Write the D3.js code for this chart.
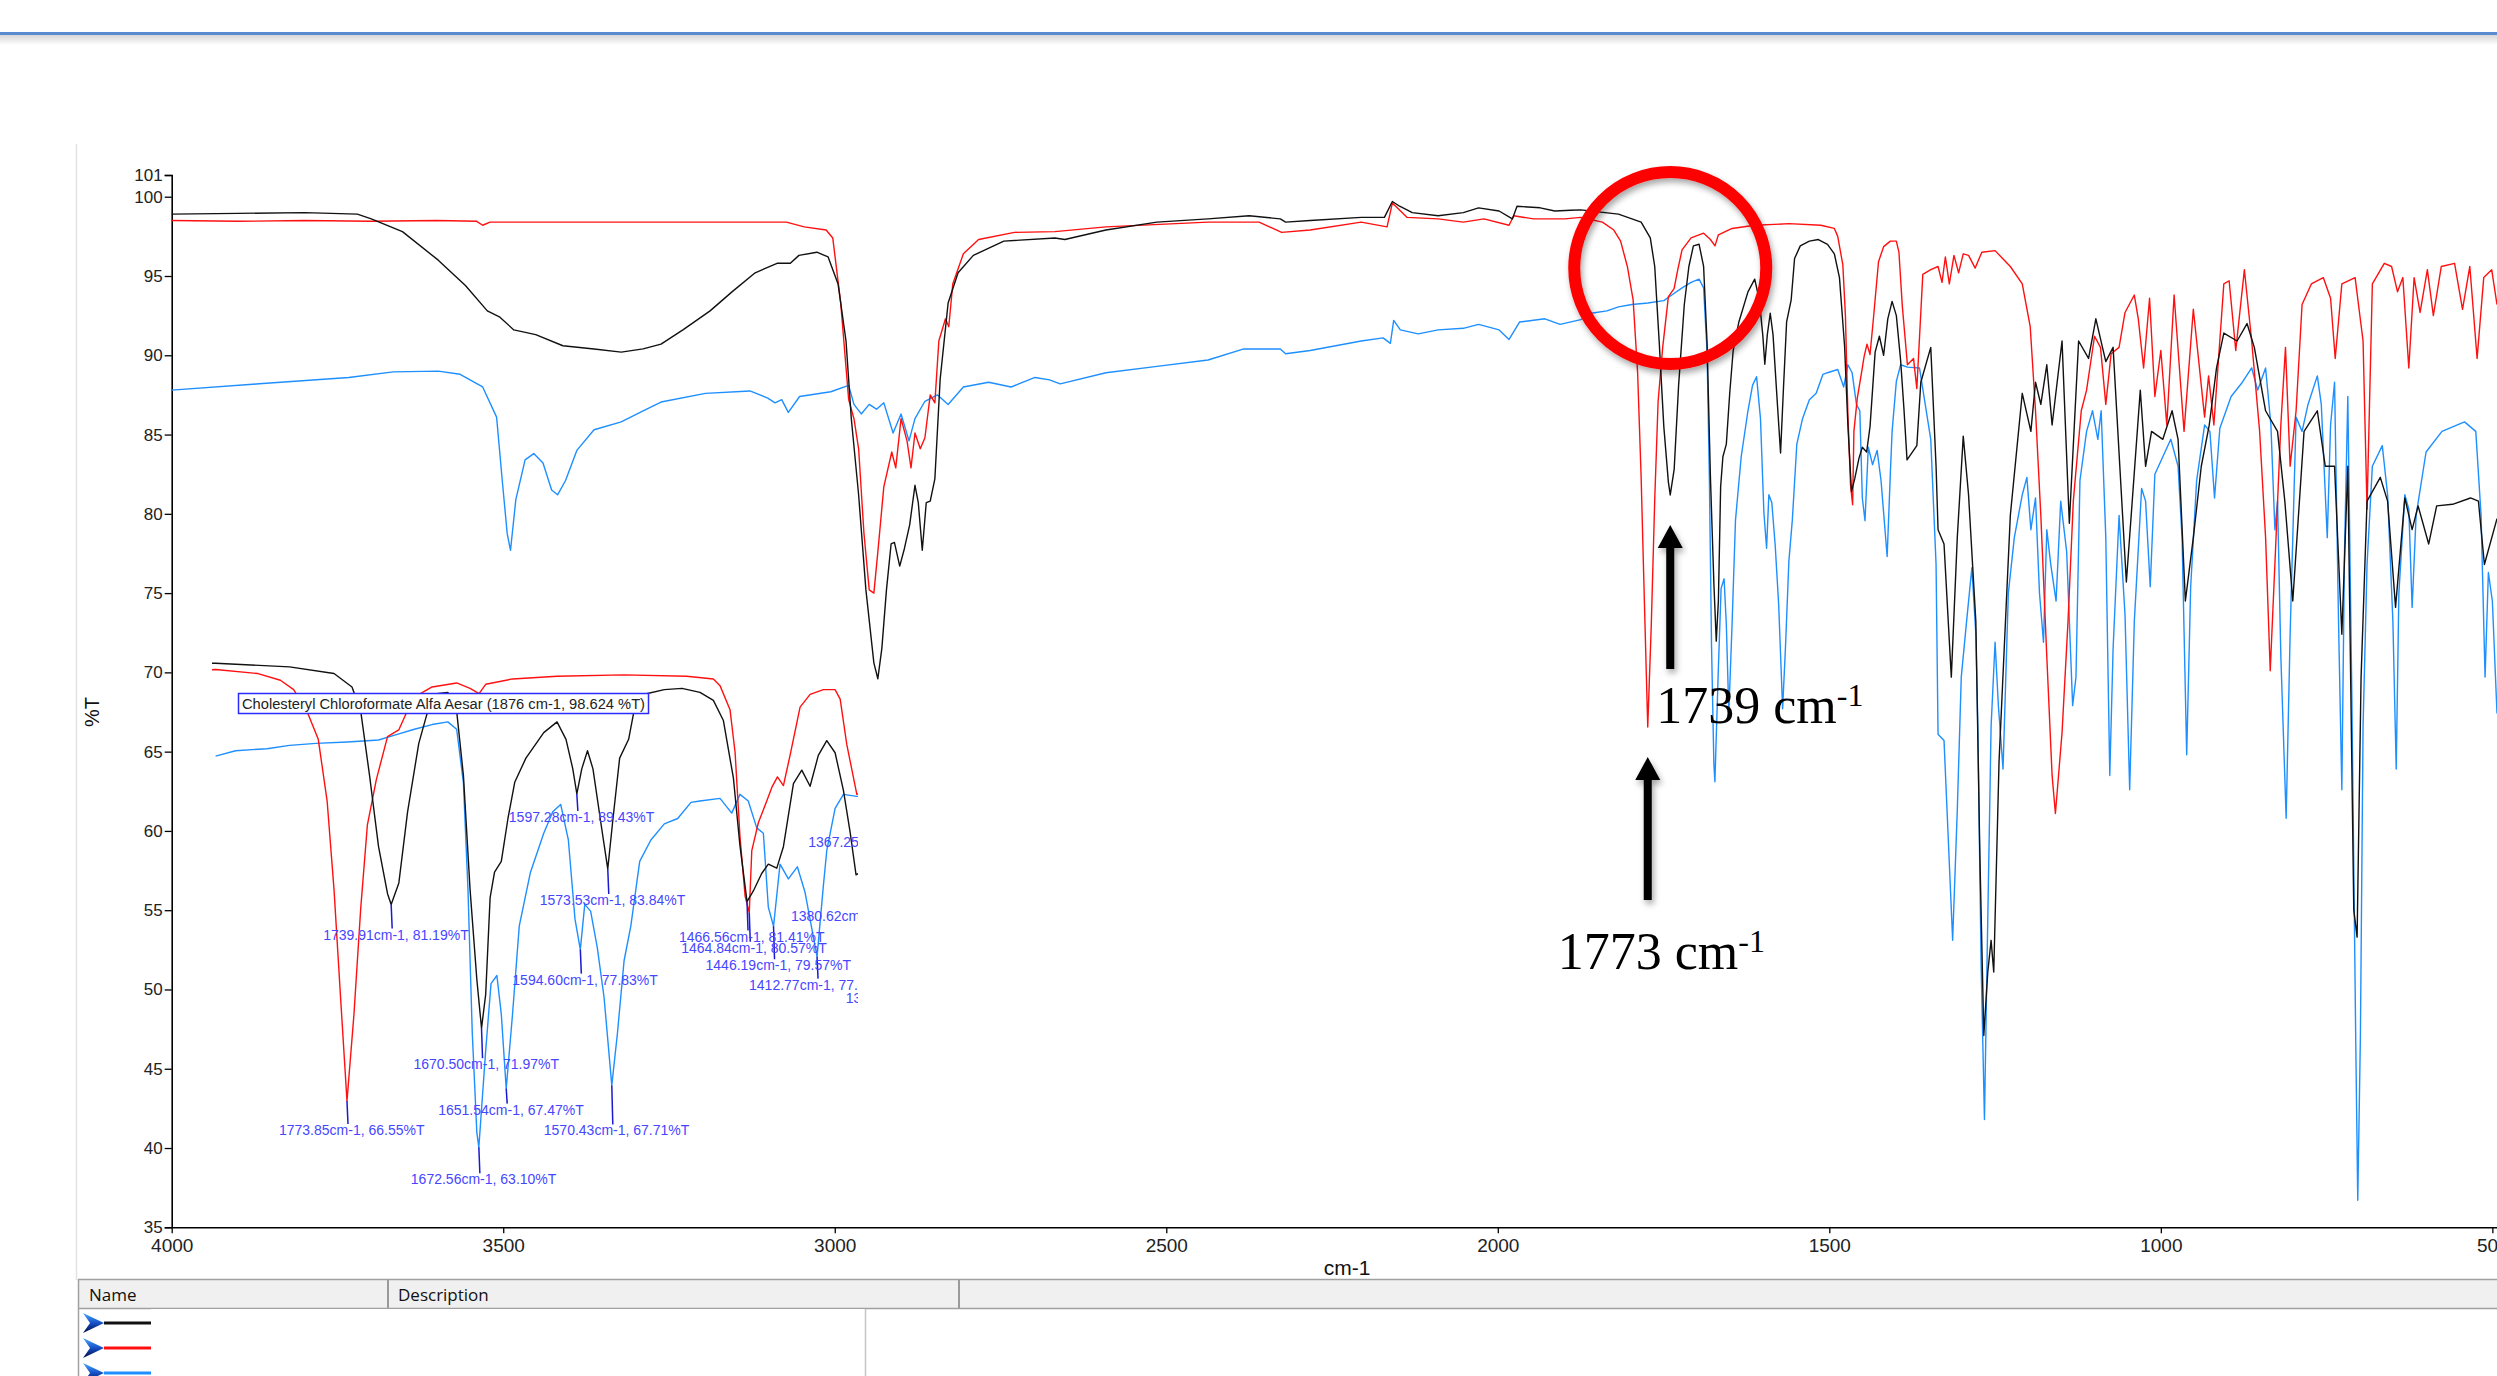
<!DOCTYPE html>
<html>
<head>
<meta charset="utf-8">
<script src="https://cdn.jsdelivr.net/npm/d3@7"></script>
<style>
  html, body { margin: 0; padding: 0; background: #fff; overflow: hidden; }
  svg { display: block; font-family: "Liberation Sans", Arial, sans-serif; }
</style>
</head>
<body>
<svg id="chart"></svg>
<script>
// ---- data: [wavenumber cm-1, %T] ----
const blackTrace = [
  [4000, 98.9], [3900, 98.95], [3800, 99.0], [3720, 98.9], [3699, 98.6], [3652, 97.8], [3598, 96.0],
  [3557, 94.4], [3524, 92.8], [3505, 92.4], [3484, 91.6], [3451, 91.3], [3410, 90.6], [3363, 90.4],
  [3322, 90.2], [3289, 90.4], [3262, 90.7], [3229, 91.6], [3188, 92.8], [3155, 94.0], [3120, 95.2],
  [3087, 95.8], [3067, 95.8], [3054, 96.3], [3027, 96.5], [3010, 96.2], [2995, 94.5], [2983, 90.9],
  [2975, 86.0], [2964, 81.2], [2953, 75.2], [2941, 70.6], [2935, 69.6], [2929, 71.5], [2922, 75.2],
  [2915, 78.1], [2910, 78.2], [2902, 76.7], [2895, 77.8], [2887, 79.3], [2879, 81.8], [2874, 80.7],
  [2868, 77.7], [2862, 80.7], [2856, 80.8], [2849, 82.2], [2841, 88.5], [2829, 93.3], [2814, 95.2],
  [2791, 96.3], [2745, 97.2], [2668, 97.4], [2653, 97.3], [2591, 97.9], [2514, 98.4], [2437, 98.6],
  [2375, 98.8], [2328, 98.6], [2320, 98.4], [2283, 98.5], [2206, 98.7], [2171, 98.7], [2159, 99.7],
  [2148, 99.4], [2129, 99.0], [2090, 98.8], [2052, 99.0], [2029, 99.3], [1998, 99.1], [1978, 98.6],
  [1971, 99.4], [1936, 99.3], [1914, 99.1], [1890, 99.15], [1874.8, 99.17], [1818, 98.9], [1783.8, 98.4],
  [1770, 97.4], [1763.3, 95.6], [1756.5, 90.8], [1749.6, 85.5], [1742.7, 82.0], [1739.91, 81.19],
  [1734, 82.8], [1727.3, 88.1], [1718.7, 93.2], [1711.8, 95.6], [1705, 96.9], [1696.4, 97.0],
  [1689.6, 95.6], [1684.4, 90.8], [1679.3, 82.3], [1674.1, 75.6], [1670.5, 71.97], [1667.3, 74.5],
  [1663.9, 81.7], [1660.5, 83.6], [1655.3, 84.4], [1650.2, 87.6], [1645, 90.3], [1636.4, 92.1],
  [1622.7, 94.0], [1612.5, 94.8], [1605.6, 93.5], [1600.4, 91.3], [1597.28, 89.43], [1593.5, 91.3],
  [1589.1, 92.65], [1584.9, 91.3], [1578.1, 86.8], [1573.53, 83.84], [1569.5, 87.6], [1564.4, 92.1],
  [1557.5, 93.5], [1552.4, 96.1], [1543.8, 96.9], [1530.1, 97.2], [1516.5, 97.3], [1502.7, 97.0],
  [1492.4, 96.4], [1484.7, 94.9], [1477, 90.6], [1472, 85.6], [1466.56, 81.41], [1461.7, 82.2],
  [1455.3, 83.5], [1450.2, 84.2], [1443.7, 83.9], [1438.6, 85.5], [1430.9, 90.2], [1424.5, 91.2],
  [1418.1, 90.0], [1411.8, 92.3], [1405.3, 93.4], [1398.9, 92.5], [1392.5, 89.7], [1387.4, 86.6],
  [1382.8, 83.4], [1368, 84.3], [1362, 88.3], [1347, 90.5], [1339, 83.0], [1336, 79.0], [1327, 78.1],
  [1316, 69.7], [1307, 78.5], [1298, 84.9], [1290, 81.2], [1279, 73.2], [1273, 58.6], [1267, 47.1],
  [1261, 51.1], [1256, 53.1], [1252, 51.1], [1244, 64.4], [1227, 79.9], [1209, 87.6], [1196, 85.2],
  [1189, 88.3], [1181, 86.9], [1172, 89.4], [1164, 85.6], [1149, 90.9], [1138, 79.4], [1124, 90.9],
  [1109, 89.8], [1098, 92.3], [1083, 89.6], [1072, 90.5], [1052, 75.7], [1031, 87.8], [1023, 83.0],
  [1014, 85.2], [997, 84.7], [983, 86.5], [974, 84.7], [963, 74.5], [951, 78.5], [939, 83.0],
  [927, 85.6], [916, 89.2], [905, 91.4], [885, 90.9], [870, 92.0], [859, 90.5], [842, 86.5],
  [824, 85.2], [813, 80.8], [801, 74.5], [784, 85.2], [764, 86.5], [752, 83.0], [738, 83.0],
  [727, 72.4], [718, 83.0], [709, 55.0], [704, 53.3], [698, 69.7], [689, 80.8], [669, 82.3],
  [658, 80.8], [646, 74.1], [632, 81.0], [621, 79.0], [612, 80.5], [596, 78.1], [584, 80.5],
  [560, 80.6], [533, 81.0], [521, 80.8], [512, 76.8], [493, 79.7]
];

const redTrace = [
  [4000, 98.5], [3900, 98.45], [3800, 98.5], [3700, 98.45], [3600, 98.5], [3540, 98.45], [3531, 98.2],
  [3520, 98.4], [3400, 98.4], [3200, 98.4], [3073, 98.4], [3046, 98.1], [3013, 97.9], [3003, 97.4],
  [2991, 93.3], [2979, 87.2], [2971, 86.0], [2964, 84.1], [2956, 78.8], [2948, 75.2], [2941, 75.0],
  [2935, 77.6], [2926, 81.7], [2914, 83.9], [2908, 82.9], [2900, 86.0], [2891, 84.6], [2885, 82.9],
  [2879, 85.1], [2871, 84.1], [2864, 84.8], [2856, 87.5], [2849, 87.0], [2843, 90.9], [2833, 92.3],
  [2828, 91.8], [2822, 94.5], [2806, 96.4], [2783, 97.3], [2729, 97.75], [2668, 97.8], [2591, 98.1],
  [2437, 98.4], [2360, 98.4], [2326, 97.75], [2283, 97.9], [2206, 98.4], [2167, 98.1], [2159, 99.6],
  [2137, 98.7], [2090, 98.6], [2052, 98.4], [2021, 98.6], [1983, 98.2], [1976, 98.8], [1946, 98.6],
  [1899, 98.6], [1874.8, 98.7], [1842.2, 98.4], [1825, 97.9], [1814.8, 97.2], [1804.6, 95.6],
  [1795.9, 93.5], [1789.1, 88.9], [1783.8, 82.3], [1778.8, 74.3], [1773.85, 66.55], [1768.5, 73.0],
  [1763.3, 80.9], [1758.2, 87.1], [1751.3, 90.5], [1742.7, 93.7], [1734.1, 94.2], [1729, 95.3],
  [1722.1, 96.65], [1708.5, 97.4], [1689.6, 97.7], [1679.3, 97.3], [1672.4, 96.9], [1667.3, 97.6],
  [1646.7, 98.0], [1612.5, 98.2], [1561, 98.3], [1512.9, 98.2], [1492.4, 98.0], [1487.3, 97.5],
  [1479.6, 95.7], [1475.7, 92.5], [1472, 86.3], [1468, 81.8], [1464.84, 80.57], [1462.9, 85.2],
  [1457.8, 87.3], [1451.4, 88.9], [1447.6, 89.9], [1443.2, 90.7], [1438.6, 90.05], [1433.5, 92.3],
  [1425.8, 95.9], [1418.1, 96.85], [1407.9, 97.2], [1398.9, 97.2], [1395, 96.5], [1389.9, 93.1],
  [1382.2, 89.4], [1373, 89.8], [1368, 87.9], [1359, 95.1], [1347, 95.4], [1336, 95.6], [1330, 94.6],
  [1325, 96.2], [1319, 94.5], [1312, 96.3], [1305, 95.2], [1298, 96.4], [1290, 96.3], [1280, 95.5],
  [1270, 96.5], [1250, 96.6], [1227, 95.6], [1209, 94.5], [1197, 91.8], [1189, 86.5], [1181, 79.9],
  [1172, 71.0], [1164, 63.5], [1159, 61.1], [1149, 66.2], [1140, 73.2], [1132, 80.8], [1120, 86.5],
  [1112, 87.8], [1100, 91.2], [1091, 90.5], [1083, 86.9], [1075, 90.1], [1063, 90.5], [1054, 92.7],
  [1040, 93.8], [1034, 92.3], [1026, 89.2], [1017, 93.6], [1009, 87.4], [1000, 90.3], [991, 85.6],
  [980, 93.8], [965, 85.2], [951, 92.9], [934, 86.1], [928, 88.7], [920, 85.6], [905, 94.5],
  [897, 94.7], [887, 90.3], [874, 95.4], [863, 90.9], [851, 85.2], [842, 78.5], [835, 70.1],
  [828, 76.8], [819, 85.6], [812, 90.5], [805, 83.0], [796, 86.5], [787, 93.2], [773, 94.5],
  [755, 94.9], [744, 93.6], [737, 89.8], [727, 94.5], [707, 94.9], [695, 90.9], [689, 80.3],
  [681, 94.5], [663, 95.8], [652, 95.6], [643, 94.0], [635, 94.9], [626, 89.2], [618, 94.9],
  [609, 92.7], [598, 95.4], [589, 92.5], [577, 95.6], [557, 95.8], [545, 92.9], [534, 95.6],
  [523, 89.8], [513, 94.9], [501, 95.4], [493, 93.2]
];

const blueTrace = [
  [4000, 87.8], [3868, 88.2], [3733, 88.6], [3666, 88.95], [3598, 89.0], [3565, 88.8], [3531, 88.0],
  [3510, 86.1], [3501, 81.9], [3494, 78.75], [3489, 77.7], [3481, 80.9], [3467, 83.4], [3454, 83.8],
  [3440, 83.2], [3427, 81.5], [3418, 81.2], [3406, 82.1], [3389, 84.0], [3363, 85.3], [3322, 85.8],
  [3289, 86.5], [3262, 87.05], [3195, 87.6], [3128, 87.75], [3101, 87.3], [3090, 87.0], [3080, 87.2],
  [3070, 86.4], [3053, 87.4], [3006, 87.7], [2979, 88.1], [2971, 86.9], [2960, 86.3], [2948, 86.9],
  [2937, 86.6], [2926, 87.0], [2912, 85.1], [2900, 86.3], [2888, 84.6], [2879, 86.0], [2864, 87.1],
  [2845, 87.5], [2829, 86.9], [2806, 88.0], [2768, 88.3], [2734, 88.0], [2698, 88.6], [2676, 88.45],
  [2660, 88.2], [2591, 88.9], [2514, 89.3], [2437, 89.7], [2383, 90.4], [2328, 90.4], [2320, 90.1],
  [2283, 90.3], [2206, 90.9], [2173, 91.1], [2162, 90.75], [2157, 92.2], [2147, 91.6], [2120, 91.35],
  [2090, 91.6], [2052, 91.7], [2029, 91.95], [1998, 91.6], [1983, 91.0], [1967, 92.1], [1929, 92.3],
  [1906, 91.95], [1874.8, 92.25], [1859.4, 92.65], [1835.3, 92.8], [1818, 93.05], [1797.7, 93.2],
  [1773.6, 93.3], [1749.6, 93.45], [1735.9, 93.85], [1722.1, 94.25], [1708.5, 94.6], [1696.4, 94.8],
  [1689.6, 94.25], [1684.4, 90.25], [1680.9, 82.3], [1677.6, 71.6], [1674.1, 64.2], [1672.56, 63.1],
  [1667.3, 70.3], [1663.2, 75.3], [1658.7, 75.9], [1655.3, 73.0], [1651.54, 67.47], [1646.7, 73.0],
  [1641.5, 79.6], [1632.9, 83.6], [1622.7, 86.5], [1615.8, 88.1], [1609.7, 88.65], [1603.8, 86.0],
  [1598.7, 80.1], [1594.6, 77.83], [1591.2, 81.2], [1586.7, 80.7], [1581.6, 78.0], [1576.4, 74.3],
  [1570.43, 67.71], [1566.1, 71.6], [1561, 77.0], [1555.8, 79.6], [1549, 84.4], [1540.4, 86.0],
  [1530.1, 87.2], [1519.8, 87.6], [1509.6, 88.8], [1502.7, 88.9], [1487.3, 89.1], [1478.3, 88.0],
  [1472, 89.4], [1465.6, 88.9], [1459.1, 86.9], [1454, 86.5], [1450.2, 81.0], [1446.19, 79.57],
  [1441.2, 84.2], [1434.8, 83.1], [1427.9, 84.0], [1422, 82.1], [1412.77, 77.31], [1407.9, 82.6],
  [1405.3, 85.2], [1398.9, 88.35], [1392.5, 89.4], [1382.2, 89.25], [1364, 89.2], [1347, 84.7],
  [1339, 76.8], [1336, 66.1], [1327, 65.7], [1321, 59.9], [1314, 53.1], [1307, 61.3], [1301, 69.7],
  [1293, 73.2], [1285, 76.6], [1279, 72.4], [1276, 66.6], [1271, 51.5], [1266, 41.8], [1262, 52.0],
  [1256, 66.6], [1250, 71.9], [1245, 67.9], [1238, 63.9], [1230, 75.0], [1221, 78.5], [1209, 81.2],
  [1202, 82.3], [1196, 79.0], [1189, 81.0], [1183, 75.0], [1177, 71.9], [1172, 79.0], [1166, 76.8],
  [1158, 74.5], [1151, 80.8], [1142, 77.6], [1133, 67.9], [1128, 69.7], [1122, 82.1], [1112, 85.2],
  [1103, 86.5], [1095, 84.7], [1090, 86.5], [1083, 78.5], [1077, 63.5], [1072, 71.5], [1063, 79.9],
  [1054, 73.6], [1047, 62.6], [1040, 73.2], [1029, 81.6], [1023, 80.8], [1016, 75.4], [1009, 82.5],
  [997, 83.6], [985, 84.7], [974, 83.0], [968, 78.5], [961, 64.8], [955, 75.4], [946, 82.1],
  [934, 85.6], [926, 85.2], [919, 81.0], [911, 85.4], [894, 87.4], [877, 88.3], [863, 89.2],
  [854, 87.8], [842, 89.2], [834, 85.6], [828, 79.0], [824, 80.8], [819, 71.0], [811, 60.8],
  [805, 72.4], [796, 86.1], [787, 85.2], [778, 86.9], [764, 88.7], [758, 86.9], [749, 78.5],
  [744, 85.6], [738, 88.3], [732, 73.2], [727, 62.6], [723, 77.6], [718, 87.4], [712, 68.8],
  [706, 46.6], [703, 36.7], [699, 47.1], [695, 66.6], [689, 76.8], [681, 83.0], [666, 84.3],
  [658, 81.2], [650, 73.2], [645, 63.9], [641, 75.0], [632, 81.2], [626, 80.3], [621, 74.1],
  [615, 79.9], [600, 83.9], [576, 85.2], [542, 85.8], [525, 85.2], [517, 79.9], [511, 69.7],
  [506, 76.3], [500, 74.5], [493, 67.4]
];

// peak picks shown in the zoomed inset
const peakWavenumbers = [1773.85, 1739.91, 1672.56, 1670.50, 1651.54, 1597.28, 1594.60, 1573.53,
  1570.43, 1466.56, 1464.84, 1446.19, 1412.77, 1380.62, 1367.25, 1338.49];
const peakValues = [66.55, 81.19, 63.10, 71.97, 67.47, 89.43, 77.83, 83.84,
  67.71, 81.41, 80.57, 79.57, 77.31, 83.25, 88.62, 76.90];

const yTicks = [35, 40, 45, 50, 55, 60, 65, 70, 75, 80, 85, 90, 95, 100, 101.37];
const xTicks = [4000, 3500, 3000, 2500, 2000, 1500, 1000, 500];

const tooltipText = "Cholesteryl Chloroformate Alfa Aesar (1876 cm-1, 98.624 %T)";
const callouts = [1739.91, 1773.85];   // C=O bands marked with arrows
const calloutValues = [81.19, 66.55];

// ---- page ----
const W = 2497, H = 1376;
const svg = d3.select("#chart").attr("width", W).attr("height", H);
const defs = svg.append("defs");

const shadow = defs.append("filter").attr("id", "shadow")
  .attr("x", "-20%").attr("y", "-20%").attr("width", "140%").attr("height", "140%");
shadow.append("feDropShadow").attr("dx", 2).attr("dy", 4).attr("stdDeviation", 3)
  .attr("flood-color", "#000").attr("flood-opacity", 0.35);

const topShade = defs.append("linearGradient").attr("id", "topShade")
  .attr("x1", 0).attr("y1", 0).attr("x2", 0).attr("y2", 1);
topShade.append("stop").attr("offset", 0).attr("stop-color", "#d6d6d6");
topShade.append("stop").attr("offset", 1).attr("stop-color", "#ffffff");

const chev = defs.append("linearGradient").attr("id", "chev")
  .attr("x1", 0).attr("y1", 0).attr("x2", 0).attr("y2", 1);
chev.append("stop").attr("offset", 0).attr("stop-color", "#49a8ff");
chev.append("stop").attr("offset", 0.5).attr("stop-color", "#1550c8");
chev.append("stop").attr("offset", 1).attr("stop-color", "#000a40");

// window chrome: blue rule across the top and the panel edge
svg.append("rect").attr("x", 0).attr("y", 32).attr("width", W).attr("height", 3).attr("fill", "#5a8bd0");
svg.append("rect").attr("x", 0).attr("y", 35).attr("width", W).attr("height", 10).attr("fill", "url(#topShade)");
svg.append("line").attr("x1", 76.5).attr("x2", 76.5).attr("y1", 144).attr("y2", 1280)
  .attr("stroke", "#e2e2e2").attr("stroke-width", 1.5);

// Create scales for the main plot
const x = d3.scaleLinear().domain([4000, 493]).range([171.7, 2497]);
const y = d3.scaleLinear().domain([35, 101.37]).range([1227.3, 175]);

// Create Y axis
const yAxis = svg.append("g")
  .attr("transform", `translate(${x(4000)},0)`)
  .call(d3.axisLeft(y).tickValues(yTicks).tickSize(7).tickPadding(2).tickFormat(d3.format(".0f")));
yAxis.selectAll("text").attr("font-size", 17).attr("fill", "#222");

// Create X axis
const xAxis = svg.append("g")
  .attr("transform", `translate(0,${y(35)})`)
  .call(d3.axisBottom(x).tickValues(xTicks).tickSize(6).tickSizeOuter(0).tickPadding(5).tickFormat(d3.format("d")));
xAxis.selectAll("text").attr("font-size", 19).attr("fill", "#222");

[yAxis, xAxis].forEach(a => {
  a.attr("font-family", "'Liberation Sans', Arial, sans-serif");
  a.select(".domain").attr("stroke", "#000").attr("stroke-width", 1.6);
  a.selectAll(".tick line").attr("stroke", "#000").attr("stroke-width", 1.3);
});

svg.append("text").attr("x", 1347).attr("y", 1275).attr("text-anchor", "middle")
  .attr("font-size", 21).attr("fill", "#111").text("cm-1");
svg.append("text").attr("transform", "translate(99,712) rotate(-90)").attr("text-anchor", "middle")
  .attr("font-size", 20).attr("fill", "#111").text("%T");

// Spectra
const series = [
  { data: blueTrace, color: "#1e8fff" },
  { data: redTrace, color: "#ff1010" },
  { data: blackTrace, color: "#111111" }
];
const line = d3.line().x(d => x(d[0])).y(d => y(d[1]));
svg.append("g").selectAll("path")
  .data(series)
  .join("path")
  .attr("d", d => line(d.data))
  .attr("fill", "none")
  .attr("stroke", d => d.color)
  .attr("stroke-width", 1.4)
  .attr("stroke-linejoin", "round");

// ---- zoomed inset of the carbonyl region ----
const xIn = d3.scaleLinear().domain([1877, 1381]).range([212.7, 858.4]);
const yIn = d3.scaleLinear().domain([60, 99.5]).range([1188.9, 658.8]);

defs.append("clipPath").attr("id", "insetClip")
  .append("rect").attr("x", 212).attr("y", 650).attr("width", 646).attr("height", 550);

const inset = svg.append("g").attr("clip-path", "url(#insetClip)");
inset.append("rect").attr("x", 212).attr("y", 650).attr("width", 646).attr("height", 550).attr("fill", "#fff");

const lineIn = d3.line().x(d => xIn(d[0])).y(d => yIn(d[1]));
inset.append("g").selectAll("path")
  .data(series)
  .join("path")
  .attr("d", d => lineIn(d.data.filter(p => p[0] <= 1900 && p[0] >= 1360)))
  .attr("fill", "none")
  .attr("stroke", d => d.color)
  .attr("stroke-width", 1.4)
  .attr("stroke-linejoin", "round");

// peak labels: how far below the peak each label was placed
const labelDrop = [34, 35, 37, 41, 26, 28, 35, 36, 50, 40, 40, 44, 33, 44, 42, 41];
const peaks = peakWavenumbers.map((w, i) => ({ w, t: peakValues[i], drop: labelDrop[i] }));

inset.append("g").selectAll("line")
  .data(peaks)
  .join("line")
  .attr("x1", d => xIn(d.w)).attr("y1", d => yIn(d.t))
  .attr("x2", d => xIn(d.w) + 1).attr("y2", d => yIn(d.t) + d.drop - 11)
  .attr("stroke", "#1a1ad0").attr("stroke-width", 1.5);

inset.append("g").selectAll("text")
  .data(peaks)
  .join("text")
  .attr("x", d => xIn(d.w) - 68)
  .attr("y", d => yIn(d.t) + d.drop)
  .attr("font-size", 14)
  .attr("fill", "#4646ff")
  .text(d => `${d.w.toFixed(2)}cm-1, ${d.t.toFixed(2)}%T`);

// cursor readout box
inset.append("rect").attr("x", 238.5).attr("y", 693.5).attr("width", 410).attr("height", 20)
  .attr("fill", "#fff").attr("stroke", "#2b2bff").attr("stroke-width", 1.5);
inset.append("text").attr("x", 242).attr("y", 709).attr("font-size", 14).attr("fill", "#222")
  .attr("textLength", 403).attr("lengthAdjust", "spacingAndGlyphs").text(tooltipText);

// ---- annotations on the main plot ----
svg.append("circle")
  .attr("cx", x(callouts[0])).attr("cy", 268).attr("r", 96)
  .attr("fill", "none").attr("stroke", "#ff0000").attr("stroke-width", 12)
  .attr("filter", "url(#shadow)");

const arrowLen = [144, 143];
const labelShift = [[-14, 198], [-90, 212]];
callouts.forEach((w, i) => {
  const ax = x(w), tip = y(calloutValues[i]) + 30, base = tip + arrowLen[i];
  const headH = 23, headW = 12.5, shaft = 4;
  svg.append("path")
    .attr("d", `M${ax},${tip} L${ax + headW},${tip + headH} L${ax + shaft},${tip + headH} L${ax + shaft},${base}
      L${ax - shaft},${base} L${ax - shaft},${tip + headH} L${ax - headW},${tip + headH} Z`)
    .attr("fill", "#000").attr("filter", "url(#shadow)");
  const t = svg.append("text")
    .attr("x", ax + labelShift[i][0]).attr("y", tip + labelShift[i][1])
    .style("font-family", "'Liberation Serif', 'Times New Roman', serif")
    .attr("font-size", 52).attr("fill", "#000")
    .text(`${Math.floor(w)} cm`);
  t.append("tspan").attr("dy", -17).attr("font-size", 32).text("-1");
});

// ---- spectrum list panel at the bottom ----
const panel = svg.append("g");
panel.append("rect").attr("x", 78).attr("y", 1280).attr("width", W - 78).attr("height", 28).attr("fill", "#f0f0f0");
panel.append("line").attr("x1", 78).attr("x2", W).attr("y1", 1279.5).attr("y2", 1279.5).attr("stroke", "#a0a0a0").attr("stroke-width", 1.5);
panel.append("line").attr("x1", 78).attr("x2", W).attr("y1", 1308.5).attr("y2", 1308.5).attr("stroke", "#a0a0a0").attr("stroke-width", 1.5);
panel.append("line").attr("x1", 78.5).attr("x2", 78.5).attr("y1", 1279).attr("y2", H).attr("stroke", "#a0a0a0").attr("stroke-width", 1.5);
[388, 959].forEach(cx => {
  panel.append("line").attr("x1", cx).attr("x2", cx).attr("y1", 1280).attr("y2", 1308)
    .attr("stroke", "#9a9a9a").attr("stroke-width", 2);
});
panel.append("text").attr("x", 89).attr("y", 1301).style("font-family", "'Open Sans', 'Noto Sans', sans-serif")
  .attr("font-size", 17).attr("fill", "#111").text("Name");
panel.append("text").attr("x", 398).attr("y", 1301).style("font-family", "'Open Sans', 'Noto Sans', sans-serif")
  .attr("font-size", 17).attr("fill", "#111").text("Description");

series.slice().reverse().forEach((s, i) => {
  const cy = 1323 + i * 25;
  panel.append("path")
    .attr("d", `M83,${cy - 10} L104,${cy} L83,${cy + 10} L90,${cy} Z`)
    .attr("fill", "url(#chev)");
  panel.append("line").attr("x1", 104).attr("x2", 152).attr("y1", cy).attr("y2", cy)
    .attr("stroke", s.color).attr("stroke-width", 3);
});

// blank popup sitting over the list
panel.append("rect").attr("x", 151).attr("y", 1309).attr("width", 714).attr("height", 70)
  .attr("fill", "#fff");
panel.append("line").attr("x1", 865.5).attr("x2", 865.5).attr("y1", 1309).attr("y2", H)
  .attr("stroke", "#c4c4c4").attr("stroke-width", 1.5);
</script>
</body>
</html>
